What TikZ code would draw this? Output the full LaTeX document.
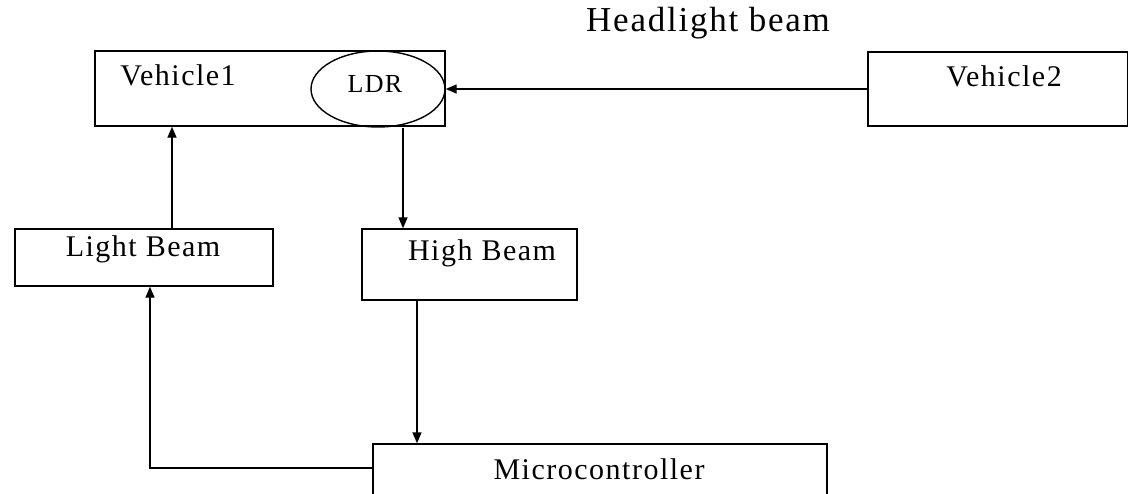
\documentclass[tikz,border=0pt]{standalone}
\usepackage{fontspec}
\setmainfont{Liberation Serif}
\newfontfamily\spaced{Liberation Serif}[LetterSpace=5]
\usetikzlibrary{arrows.meta,shapes.geometric}
\tikzset{
  box/.style={draw, line width=1.4pt, minimum width=#1, inner sep=0pt},
  lbl/.style={font=\fontsize{30}{34}\selectfont\spaced, inner sep=0pt},
  arr/.style={line width=1.4pt, -{Triangle[length=11pt,width=9pt]}},
  ln/.style={line width=1.4pt}
}
\begin{document}
\begin{tikzpicture}[x=1pt,y=-1pt]
\useasboundingbox (0,0) rectangle (1128,493);
\clip (0,0) rectangle (1128,493);
% boxes
\node[box=350pt, minimum height=75pt] (v1) at (270,88.5) {};
\node[box=260pt, minimum height=74pt] (v2) at (998,89) {};
\node[draw, ellipse, line width=1.4pt, minimum width=134pt, minimum height=76pt, inner sep=0pt] (ldr) at (378,89) {};
\node[box=258pt, minimum height=57pt] (lb) at (144,257.5) {};
\node[box=215pt, minimum height=71pt] (hb) at (469.5,264.5) {};
\node[box=454pt, minimum height=60pt] (mc) at (600,474) {};
% texts
\node[lbl] (t1) at (178,75) {Vehicle1};
\node[lbl] (t2) at (1004,76) {Vehicle2};
\node[lbl, font=\fontsize{26}{30}\selectfont\spaced] (t3) at (375,84) {LDR};
\node[lbl] (t4) at (143,249) {Light Beam};
\node[lbl] (t5) at (482,253) {High Beam};
\node[lbl] (t6) at (599,469) {Microcontroller};
\node[lbl, font=\fontsize{35}{40}\selectfont\spaced] (t7) at (708,23) {Headlight beam};
% connectors
\draw[arr] (v2.west) -- (ldr.east);
\draw[arr] ([xshift=25pt]ldr.south) -- ([xshift=25pt]ldr.south |- hb.north);
\draw[arr] ([xshift=-52.5pt]hb.south) -- ([xshift=-52.5pt]hb.south |- mc.north);
\draw[arr] ([xshift=28pt]lb.north) -- ([xshift=28pt]lb.north |- v1.south);
\draw[arr] ([yshift=6pt]mc.west) -| ([xshift=6pt]lb.south);
\end{tikzpicture}
\end{document}
